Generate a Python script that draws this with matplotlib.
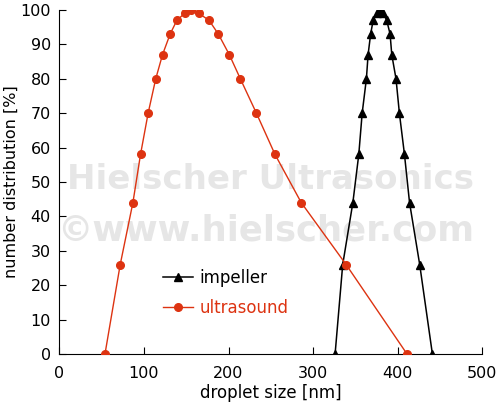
#!/usr/bin/env python3

import matplotlib
matplotlib.use("Agg")
import matplotlib.pyplot as plt

# droplet size distributions
ultrasound_size = [54, 72, 87, 96, 105, 114, 122, 131, 139, 148, 156, 165, 177, 188, 201, 214, 233, 255, 286, 339, 411]
ultrasound_dist = [0, 26, 44, 58, 70, 80, 87, 93, 97, 99, 100, 99, 97, 93, 87, 80, 70, 58, 44, 26, 0]

impeller_size = [326, 335, 347, 354, 358, 363, 365, 368, 371, 375, 379, 383, 387, 391, 393, 398, 402, 408, 414, 426, 441]
impeller_dist = [0, 26, 44, 58, 70, 80, 87, 93, 97, 99, 100, 99, 97, 93, 87, 80, 70, 58, 44, 26, 0]

x_ticks = [0, 100, 200, 300, 400, 500]
y_ticks = [0, 10, 20, 30, 40, 50, 60, 70, 80, 90, 100]

red = "#dd3311"

plt.rcParams["font.family"] = ["DejaVu Sans"]

fig = plt.figure(figsize=(5.0, 4.11), dpi=100)
ax = fig.add_axes([0.1186, 0.1387, 0.846, 0.837])

# watermark
ax.text(0.5, 0.506, "Hielscher Ultrasonics", transform=ax.transAxes, ha="center", va="center",
        fontsize=24.5, fontweight="bold", color="#e6e6e6", zorder=0)
ax.text(0.487, 0.36, "\u00a9www.hielscher.com", transform=ax.transAxes, ha="center", va="center",
        fontsize=25.5, fontweight="bold", color="#e6e6e6", zorder=0)

ax.plot(impeller_size, impeller_dist, color="black", lw=1.1, marker="^", markersize=6, label="impeller", zorder=3)
ax.plot(ultrasound_size, ultrasound_dist, color=red, lw=1.0, marker="o", markersize=5.5, label="ultrasound", zorder=4)

ax.set_xlim(0, 500)
ax.set_ylim(0, 100)
ax.set_xticks(x_ticks)
ax.set_yticks(y_ticks)
ax.tick_params(direction="in", length=5, labelsize=11.5)
ax.tick_params(axis="x", pad=9)
ax.tick_params(axis="y", pad=6)
for s in ["top", "right"]:
    ax.spines[s].set_visible(False)
ax.set_xlabel("droplet size [nm]", fontsize=12, labelpad=2)
ax.set_ylabel("number distribution [%]", fontsize=11.5, labelpad=1)

leg = ax.legend(loc="lower left", bbox_to_anchor=(0.21, 0.065), frameon=False, fontsize=12,
                handlelength=1.8, handletextpad=0.4, labelspacing=0.7)
leg.get_texts()[1].set_color(red)

fig.savefig("out.png", dpi=100)
